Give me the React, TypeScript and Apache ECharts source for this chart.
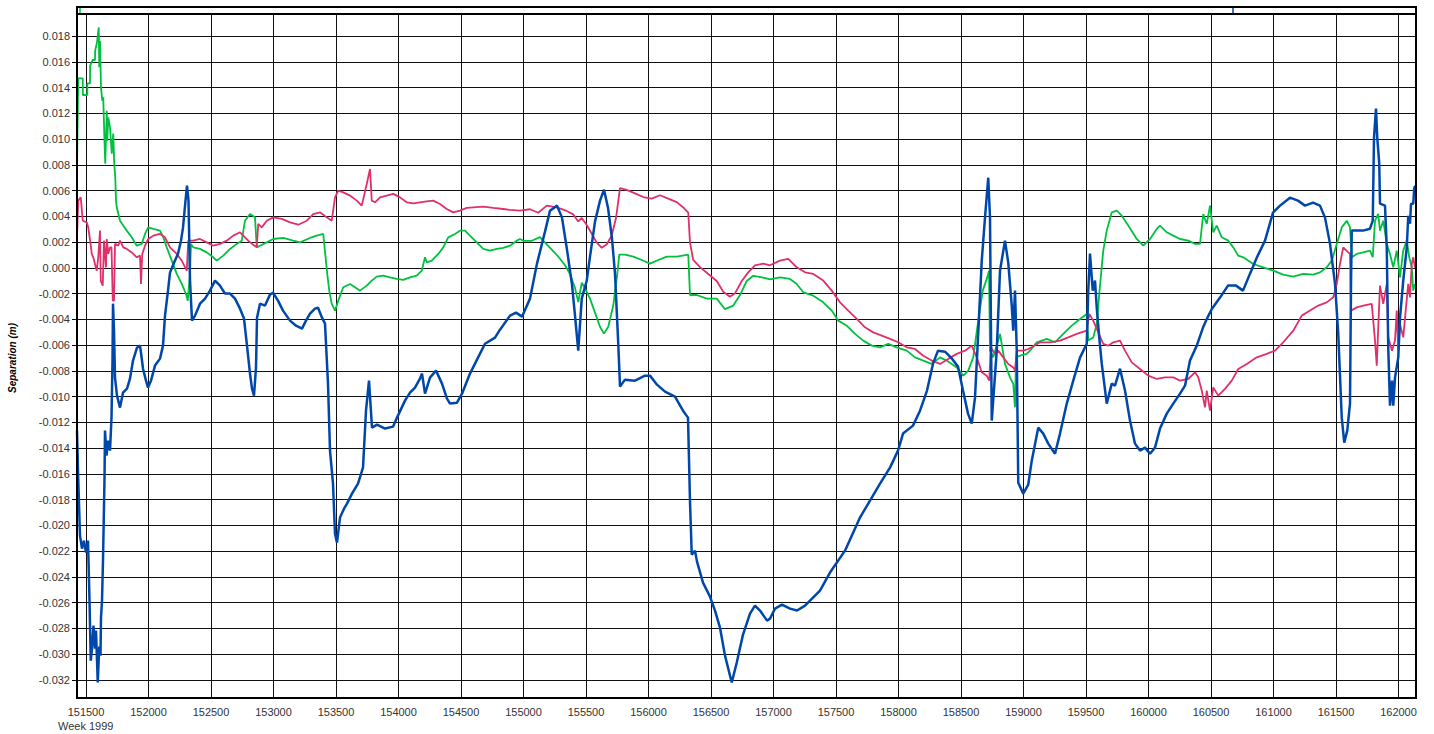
import React, { useEffect, useRef } from "react";
import * as echarts from "echarts";

const xMin = 151428;
const xMax = 162140;
const yMin = -0.0334;
const yMax = 0.01971;

const xTickValues = [151500, 152000, 152500, 153000, 153500, 154000, 154500, 155000, 155500, 156000, 156500, 157000, 157500, 158000, 158500, 159000, 159500, 160000, 160500, 161000, 161500, 162000];
const yTickValues = [-0.032, -0.03, -0.028, -0.026, -0.024, -0.022, -0.02, -0.018, -0.016, -0.014, -0.012, -0.01, -0.008, -0.006, -0.004, -0.002, 0, 0.002, 0.004, 0.006, 0.008, 0.01, 0.012, 0.014, 0.016, 0.018];

const yAxisTitle = "Separation (m)";
const xAxisTitle = "Week 1999";

const greenSeries: [number, number][] = [[151428,0.00483],[151429,0.00856],[151438,0.01471],[151474,0.01471],[151475,0.01342],[151510,0.01342],[151511,0.01432],[151532,0.01432],[151533,0.0157],[151554,0.01614],[151572,0.01614],[151573,0.01686],[151588,0.01751],[151602,0.01867],[151606,0.01557],[151612,0.01764],[151620,0.01401],[151630,0.01298],[151638,0.01324],[151646,0.01042],[151654,0.00809],[151666,0.0122],[151670,0.00988],[151678,0.01168],[151692,0.01091],[151706,0.00887],[151718,0.01042],[151726,0.00809],[151734,0.00703],[151740,0.00522],[151746,0.0047],[151772,0.00366],[151798,0.00328],[151826,0.00289],[151866,0.00237],[151906,0.00172],[151946,0.00186],[151972,0.00263],[151998,0.00314],[152038,0.00302],[152092,0.00289],[152118,0.00237],[152146,0.00159],[152186,0.00056],[152226,-0.00047],[152266,-0.00125],[152300,-0.00203],[152314,-0.00255],[152332,-0.00047],[152340,0.00186],[152358,0.00159],[152412,0.00147],[152466,0.0012],[152518,0.00082],[152546,0.00056],[152598,0.00095],[152652,0.00147],[152706,0.00186],[152746,0.00211],[152772,0.00366],[152812,0.00418],[152852,0.00392],[152866,0.00159],[152892,0.00172],[152946,0.00198],[152998,0.00224],[153078,0.00232],[153158,0.00211],[153212,0.00198],[153292,0.00232],[153346,0.0025],[153398,0.00263],[153430,-0.00047],[153446,-0.00177],[153466,-0.0028],[153492,-0.00332],[153518,-0.00255],[153558,-0.00151],[153612,-0.00125],[153652,-0.00151],[153692,-0.00177],[153746,-0.00138],[153786,-0.00099],[153826,-0.00068],[153878,-0.00061],[153932,-0.00074],[153986,-0.00086],[154038,-0.00094],[154092,-0.00074],[154146,-0.00061],[154186,-0.00022],[154212,0.00082],[154226,0.00043],[154266,0.00056],[154318,0.00108],[154358,0.00159],[154398,0.00237],[154452,0.00263],[154492,0.00289],[154532,0.00289],[154572,0.0025],[154626,0.00198],[154678,0.00147],[154732,0.00134],[154786,0.00147],[154838,0.00155],[154892,0.00172],[154946,0.00211],[154972,0.00224],[154998,0.0021],[155066,0.0021],[155132,0.00238],[155172,0.00196],[155226,0.00142],[155278,0.00088],[155332,0.0002],[155372,-0.00048],[155412,-0.00157],[155438,-0.00266],[155466,-0.00116],[155492,-0.00157],[155532,-0.00239],[155572,-0.00348],[155612,-0.00457],[155644,-0.00511],[155678,-0.00457],[155718,-0.00293],[155750,-0.00048],[155766,0.00102],[155812,0.00102],[155878,0.00087],[155946,0.00061],[156012,0.00033],[156078,0.00061],[156146,0.00087],[156226,0.00087],[156318,0.00102],[156332,-0.00211],[156386,-0.00211],[156466,-0.00239],[156546,-0.00239],[156612,-0.00321],[156678,-0.00293],[156732,-0.00211],[156786,-0.00102],[156838,-0.00062],[156918,-0.00076],[156972,-0.00089],[157052,-0.00074],[157132,-0.00086],[157186,-0.00125],[157238,-0.0019],[157318,-0.00216],[157398,-0.00268],[157466,-0.00332],[157518,-0.0041],[157586,-0.00449],[157652,-0.00513],[157718,-0.00565],[157786,-0.00604],[157852,-0.00617],[157918,-0.00591],[157986,-0.00617],[158066,-0.00643],[158132,-0.00695],[158198,-0.0072],[158266,-0.00746],[158332,-0.00695],[158386,-0.0072],[158466,-0.00773],[158518,-0.00837],[158558,-0.00798],[158598,-0.00695],[158638,-0.0041],[158674,-0.00177],[158710,-0.00074],[158724,-0.00022],[158732,-0.00643],[158758,-0.00695],[158812,-0.00513],[158852,-0.00746],[158892,-0.0085],[158918,-0.00901],[158932,-0.01083],[158940,-0.00695],[158972,-0.00682],[159026,-0.00668],[159052,-0.00643],[159106,-0.00578],[159186,-0.00552],[159252,-0.00578],[159318,-0.00513],[159386,-0.00449],[159452,-0.00397],[159506,-0.00358],[159518,-0.00565],[159558,-0.0054],[159586,-0.00436],[159606,-0.00203],[159638,0.00134],[159666,0.00289],[159706,0.00431],[159746,0.00444],[159786,0.00405],[159838,0.00328],[159906,0.00224],[159958,0.00172],[160012,0.00224],[160066,0.00302],[160092,0.00328],[160146,0.00276],[160198,0.0025],[160252,0.00224],[160318,0.00211],[160372,0.00186],[160412,0.00186],[160438,0.00418],[160466,0.00341],[160492,0.00483],[160518,0.00276],[160546,0.00328],[160586,0.00237],[160638,0.00211],[160678,0.00159],[160718,0.00095],[160758,0.00082],[160838,0.0003],[160918,0.00004],[160998,-0.00022],[161078,-0.00053],[161158,-0.00068],[161238,-0.00047],[161318,-0.00053],[161372,-0.00035],[161426,0.00004],[161466,0.00056],[161506,0.00186],[161546,0.00314],[161586,0.00366],[161612,0.00314],[161626,0.00082],[161666,0.00108],[161718,0.0012],[161772,0.00134],[161794,0.00082],[161812,0.00366],[161838,0.00418],[161852,0.00289],[161878,0.00366],[161906,0.00186],[161932,0.00108],[161958,0.00004],[161986,0.00134],[162012,-0.00074],[162038,0.00134],[162066,0.00211],[162086,0.00082],[162106,0.00004],[162118,-0.00177],[162132,-0.00125]];

const redSeries: [number, number][] = [[151428,0.00002],[151429,0.00266],[151438,0.00522],[151458,0.00547],[151474,0.00366],[151506,0.00353],[151518,0.00314],[151540,0.00159],[151546,0.00108],[151558,0.00082],[151586,-0.00022],[151598,0.00082],[151612,0.00289],[151618,-0.00099],[151634,-0.00138],[151644,0.00211],[151660,0.00004],[151666,0.00224],[151678,0.00108],[151692,0.00159],[151704,0.00159],[151714,-0.00255],[151724,-0.00255],[151732,0.00186],[151758,0.00172],[151772,0.00211],[151798,0.00159],[151826,0.00147],[151866,0.0012],[151906,0.00082],[151932,0.00095],[151940,-0.00125],[151950,0.00108],[151972,0.00172],[151998,0.00224],[152038,0.0025],[152092,0.00263],[152132,0.00237],[152172,0.00159],[152226,0.00108],[152266,0.00056],[152306,-0.00022],[152318,0.00211],[152358,0.00211],[152412,0.00224],[152466,0.00198],[152518,0.00172],[152572,0.00186],[152626,0.00211],[152678,0.0025],[152732,0.00276],[152798,0.00211],[152866,0.00159],[152878,0.00341],[152906,0.00314],[152946,0.00366],[152998,0.00392],[153066,0.0038],[153132,0.00353],[153198,0.00335],[153266,0.00366],[153318,0.00418],[153372,0.00431],[153426,0.00392],[153466,0.00366],[153492,0.00547],[153518,0.00599],[153558,0.00586],[153612,0.00561],[153666,0.00522],[153706,0.00483],[153746,0.00651],[153772,0.00768],[153786,0.00522],[153812,0.00509],[153852,0.00547],[153906,0.00561],[153958,0.00574],[154012,0.00547],[154066,0.00509],[154118,0.00501],[154172,0.00509],[154226,0.00516],[154278,0.00522],[154332,0.00496],[154386,0.00457],[154438,0.00431],[154492,0.00444],[154546,0.00465],[154598,0.0047],[154678,0.00475],[154758,0.00465],[154838,0.00457],[154892,0.0045],[154972,0.00444],[155052,0.00455],[155118,0.00428],[155186,0.00483],[155266,0.00469],[155346,0.00442],[155398,0.00415],[155438,0.0036],[155466,0.00387],[155506,0.00333],[155546,0.00265],[155586,0.00196],[155626,0.00156],[155666,0.00183],[155706,0.00251],[155740,0.00387],[155772,0.00619],[155826,0.00605],[155892,0.00578],[155958,0.0055],[156026,0.00537],[156092,0.00564],[156158,0.00537],[156226,0.0051],[156278,0.00469],[156318,0.00428],[156332,0.00196],[156358,0.00061],[156412,0.00006],[156478,-0.00048],[156546,-0.00102],[156598,-0.00185],[156652,-0.00225],[156692,-0.00198],[156746,-0.00102],[156798,-0.00035],[156852,0.0002],[156918,0.00033],[156972,0.0002],[157052,0.00056],[157118,0.00069],[157186,0.00004],[157252,-0.00035],[157318,-0.00047],[157398,-0.00099],[157466,-0.00177],[157532,-0.00268],[157598,-0.00332],[157666,-0.00397],[157732,-0.00462],[157798,-0.00501],[157866,-0.00526],[157932,-0.00552],[157998,-0.00578],[158066,-0.00617],[158132,-0.0063],[158198,-0.00682],[158266,-0.0072],[158332,-0.00746],[158398,-0.00707],[158466,-0.00668],[158532,-0.00643],[158586,-0.00604],[158626,-0.00695],[158666,-0.00811],[158706,-0.00837],[158726,-0.00876],[158738,-0.00617],[158772,-0.00668],[158798,-0.00643],[158838,-0.00695],[158878,-0.00746],[158918,-0.00773],[158932,-0.00798],[158946,-0.00643],[158998,-0.00643],[159038,-0.0063],[159066,-0.00617],[159132,-0.00578],[159212,-0.00578],[159292,-0.00565],[159358,-0.0054],[159426,-0.00513],[159506,-0.00488],[159526,-0.00358],[159558,-0.0041],[159598,-0.00501],[159638,-0.00591],[159678,-0.00604],[159718,-0.00578],[159772,-0.00565],[159812,-0.00643],[159866,-0.00734],[159932,-0.00785],[159998,-0.00837],[160066,-0.00863],[160132,-0.0085],[160198,-0.0085],[160252,-0.00876],[160318,-0.00863],[160372,-0.00811],[160398,-0.0085],[160426,-0.00953],[160452,-0.01083],[160466,-0.00953],[160492,-0.01109],[160518,-0.00928],[160558,-0.00992],[160612,-0.0094],[160666,-0.00876],[160718,-0.00785],[160786,-0.00746],[160866,-0.00695],[160946,-0.00668],[161012,-0.00643],[161078,-0.00578],[161158,-0.00488],[161226,-0.00371],[161292,-0.00332],[161358,-0.00293],[161426,-0.00268],[161478,-0.00229],[161506,-0.00125],[161532,0.0003],[161558,0.00159],[161598,0.0012],[161612,0.00108],[161620,-0.00332],[161666,-0.00307],[161718,-0.00293],[161786,-0.0028],[161798,-0.0041],[161812,-0.00565],[161826,-0.00759],[161838,-0.00462],[161852,-0.00138],[161878,-0.0028],[161906,-0.00125],[161918,-0.0054],[161948,-0.00643],[161972,-0.00565],[161986,-0.00332],[161998,-0.00643],[162012,-0.00436],[162038,-0.0054],[162060,-0.00307],[162078,-0.00125],[162092,-0.00229],[162106,0.0003],[162118,0.00082],[162132,0.00004]];

const blueSeries: [number, number][] = [[151428,-0.01264],[151436,-0.01575],[151452,-0.02079],[151468,-0.0218],[151484,-0.02118],[151500,-0.02211],[151516,-0.02118],[151528,-0.02584],[151538,-0.0305],[151548,-0.02957],[151560,-0.02778],[151572,-0.02957],[151580,-0.02817],[151594,-0.0322],[151606,-0.02941],[151616,-0.03011],[151620,-0.02716],[151628,-0.02584],[151636,-0.02273],[151648,-0.01637],[151652,-0.01264],[151664,-0.01458],[151676,-0.01342],[151692,-0.01419],[151704,-0.01163],[151712,-0.0072],[151716,-0.00278],[151724,-0.00488],[151732,-0.00852],[151748,-0.00992],[151772,-0.01085],[151796,-0.00969],[151828,-0.00938],[151852,-0.0086],[151876,-0.0072],[151908,-0.0062],[151932,-0.00604],[151944,-0.00689],[151956,-0.00783],[151980,-0.00876],[151996,-0.0093],[152020,-0.00876],[152052,-0.00759],[152092,-0.00705],[152116,-0.00604],[152132,-0.00371],[152156,-0.00177],[152172,-0.00037],[152204,0.0004],[152236,0.0011],[152260,0.00211],[152276,0.00312],[152296,0.00522],[152308,0.00638],[152320,0.00522],[152332,-0.00099],[152348,-0.0041],[152372,-0.00371],[152412,-0.00278],[152452,-0.00239],[152492,-0.00177],[152532,-0.00099],[152572,-0.00138],[152612,-0.002],[152652,-0.002],[152692,-0.00239],[152732,-0.00317],[152764,-0.00394],[152788,-0.00604],[152812,-0.00821],[152828,-0.00938],[152844,-0.00992],[152860,-0.00775],[152868,-0.00387],[152892,-0.00278],[152932,-0.00293],[152972,-0.00208],[152996,-0.00193],[153036,-0.00255],[153076,-0.00332],[153132,-0.0041],[153180,-0.00449],[153228,-0.00472],[153260,-0.0041],[153292,-0.00356],[153332,-0.00317],[153356,-0.00309],[153388,-0.00387],[153412,-0.00433],[153436,-0.00899],[153452,-0.01419],[153476,-0.01675],[153492,-0.02064],[153508,-0.02134],[153532,-0.01939],[153564,-0.0187],[153588,-0.01831],[153628,-0.01753],[153676,-0.01675],[153716,-0.01551],[153740,-0.01109],[153764,-0.00876],[153788,-0.01241],[153828,-0.01217],[153892,-0.01248],[153956,-0.01233],[153988,-0.01163],[154052,-0.01031],[154092,-0.00969],[154132,-0.0093],[154172,-0.0086],[154188,-0.00821],[154212,-0.00977],[154252,-0.00852],[154300,-0.00798],[154348,-0.00899],[154388,-0.01016],[154412,-0.01054],[154468,-0.01047],[154508,-0.00977],[154572,-0.00821],[154636,-0.00697],[154692,-0.00589],[154772,-0.00542],[154812,-0.0048],[154892,-0.00371],[154940,-0.00348],[154988,-0.00379],[155052,-0.00239],[155108,0.00033],[155172,0.00281],[155212,0.00444],[155268,0.00483],[155308,0.0039],[155348,0.00141],[155388,-0.0013],[155412,-0.00371],[155438,-0.00643],[155466,-0.00239],[155506,-0.00099],[155532,0.00087],[155572,0.00359],[155612,0.00522],[155644,0.00607],[155676,0.00467],[155708,0.00227],[155732,-0.00045],[155758,-0.00589],[155772,-0.00922],[155812,-0.00868],[155892,-0.00876],[155972,-0.00837],[156012,-0.00837],[156068,-0.00907],[156132,-0.00961],[156212,-0.01],[156276,-0.01109],[156316,-0.01163],[156332,-0.01815],[156346,-0.02227],[156372,-0.02196],[156388,-0.02281],[156436,-0.02444],[156492,-0.02553],[156532,-0.02661],[156572,-0.02794],[156612,-0.03011],[156666,-0.0322],[156706,-0.03065],[156756,-0.02848],[156812,-0.02685],[156852,-0.02623],[156892,-0.02661],[156948,-0.02739],[156972,-0.02724],[157012,-0.02646],[157068,-0.02615],[157132,-0.02646],[157188,-0.02661],[157252,-0.02623],[157308,-0.02568],[157372,-0.02506],[157452,-0.02366],[157572,-0.02196],[157692,-0.01939],[157772,-0.01807],[157852,-0.01675],[157932,-0.01551],[157996,-0.01419],[158036,-0.01287],[158116,-0.01225],[158172,-0.01109],[158228,-0.00953],[158276,-0.00744],[158316,-0.00643],[158372,-0.00651],[158428,-0.00705],[158476,-0.00767],[158516,-0.00953],[158556,-0.01132],[158586,-0.0121],[158612,-0.01008],[158636,-0.00542],[158666,0.00056],[158692,0.0039],[158718,0.007],[158732,0.0039],[158746,-0.01186],[158786,-0.00643],[158812,-0.00022],[158852,0.00211],[158878,0.0004],[158906,-0.00293],[158918,-0.00488],[158932,-0.00177],[158946,-0.00643],[158958,-0.01668],[158998,-0.01753],[159038,-0.01683],[159066,-0.01497],[159118,-0.01241],[159158,-0.01287],[159198,-0.01365],[159252,-0.01443],[159292,-0.01287],[159346,-0.01054],[159398,-0.00876],[159452,-0.00697],[159506,-0.00589],[159518,-0.00177],[159532,0.0011],[159554,-0.00177],[159572,-0.00099],[159586,-0.00309],[159606,-0.00542],[159626,-0.00744],[159666,-0.01054],[159706,-0.00899],[159732,-0.00915],[159772,-0.00783],[159812,-0.00953],[159852,-0.01186],[159892,-0.01365],[159932,-0.01419],[159972,-0.01396],[160012,-0.01443],[160052,-0.01396],[160092,-0.01248],[160146,-0.01132],[160198,-0.01054],[160252,-0.00977],[160292,-0.00915],[160332,-0.0072],[160386,-0.00604],[160436,-0.00464],[160468,-0.00394],[160508,-0.00317],[160572,-0.00231],[160636,-0.00138],[160700,-0.00138],[160756,-0.00177],[160812,-0.00045],[160866,0.00079],[160932,0.00211],[160996,0.00429],[161052,0.00483],[161132,0.00545],[161196,0.00522],[161252,0.00483],[161316,0.00506],[161372,0.00483],[161412,0.0039],[161452,0.00188],[161492,-0.00123],[161518,-0.00511],[161546,-0.01163],[161566,-0.01357],[161590,-0.01264],[161612,-0.01054],[161620,-0.00123],[161626,0.00289],[161716,0.00289],[161772,0.00304],[161794,0.00366],[161804,0.01011],[161820,0.01236],[161830,0.01011],[161846,0.00809],[161852,0.00498],[161892,0.00483],[161906,0.00157],[161918,-0.0062],[161932,-0.0107],[161948,-0.00876],[161958,-0.0107],[161972,-0.00852],[161998,-0.00697],[162012,-0.00387],[162038,-0.00099],[162066,0.00157],[162078,0.00405],[162092,0.00343],[162100,0.00498],[162118,0.00498],[162126,0.00623],[162140,0.00638]];

const FONT = '"Liberation Sans", Arial, sans-serif';

export default function App() {
  const ref = useRef<HTMLDivElement>(null);
  useEffect(() => {
    if (!ref.current) return;
    const chart = echarts.init(ref.current, null, { renderer: "svg" });
    chart.setOption({
      animation: false,
      backgroundColor: "#ffffff",
      grid: {
        left: 77,
        right: 18,
        top: 14,
        bottom: 36,
        show: true,
        borderColor: "#000",
        borderWidth: 2,
        backgroundColor: "transparent",
        z: 3,
      },
      xAxis: {
        type: "value",
        min: xMin,
        max: xMax,
        axisLine: { show: false },
        axisTick: { show: true, length: 4, customValues: xTickValues, lineStyle: { color: "#000", width: 1 } },
        axisLabel: {
          customValues: xTickValues,
          margin: 8,
          color: "#333",
          fontSize: 11,
          fontFamily: FONT,
          formatter: (v: number) => String(Math.round(v)),
        },
        splitLine: { show: true, lineStyle: { color: "#111", width: 1 } },
      },
      yAxis: {
        type: "value",
        min: yMin,
        max: yMax,
        axisLine: { show: false },
        axisTick: { show: true, length: 5, customValues: yTickValues, lineStyle: { color: "#000", width: 1 } },
        axisLabel: {
          customValues: yTickValues,
          margin: 7,
          color: "#333",
          fontSize: 11,
          fontFamily: FONT,
          formatter: (v: number) => (Math.abs(v) < 1e-9 ? "0.000" : v.toFixed(3)),
        },
        splitLine: { show: true, lineStyle: { color: "#111", width: 1 } },
      },
      graphic: [
        {
          type: "rect",
          z: 100,
          shape: { x: 77, y: 7, width: 1339, height: 7 },
          style: { fill: "none", stroke: "#000", lineWidth: 2 },
        },
        {
          type: "line",
          z: 100,
          shape: { x1: 80, y1: 8, x2: 80, y2: 13 },
          style: { stroke: "#00c040", lineWidth: 1.5 },
        },
        {
          type: "line",
          z: 100,
          shape: { x1: 1233, y1: 8, x2: 1233, y2: 13 },
          style: { stroke: "#0047ab", lineWidth: 1.5 },
        },
        {
          type: "text",
          z: 100,
          x: 12.5,
          y: 358,
          rotation: Math.PI / 2,
          style: {
            text: yAxisTitle,
            fontSize: 10,
            fontWeight: "bold",
            fontStyle: "italic",
            fontFamily: FONT,
            fill: "#000",
            align: "center",
            verticalAlign: "middle",
          },
        },
        {
          type: "text",
          z: 100,
          x: 58,
          y: 726,
          style: {
            text: xAxisTitle,
            fontSize: 11,
            fontFamily: FONT,
            fill: "#333",
            align: "left",
            verticalAlign: "middle",
          },
        },
      ],
      series: [
        {
          type: "line",
          name: "green",
          data: greenSeries,
          showSymbol: false,
          symbol: "none",
          z: 2,
          lineStyle: { color: "#00c040", width: 1.8 },
          itemStyle: { color: "#00c040" },
        },
        {
          type: "line",
          name: "red",
          data: redSeries,
          showSymbol: false,
          symbol: "none",
          z: 2,
          lineStyle: { color: "#e0306a", width: 1.8 },
          itemStyle: { color: "#e0306a" },
        },
        {
          type: "line",
          name: "blue",
          data: blueSeries,
          showSymbol: false,
          symbol: "none",
          z: 2,
          lineStyle: { color: "#0047ab", width: 2.5 },
          itemStyle: { color: "#0047ab" },
        },
      ],
    });
    return () => chart.dispose();
  }, []);
  return (
    <div
      ref={ref}
      style={{ position: "fixed", left: 0, top: 0, width: 1434, height: 734, background: "#fff" }}
    />
  );
}
